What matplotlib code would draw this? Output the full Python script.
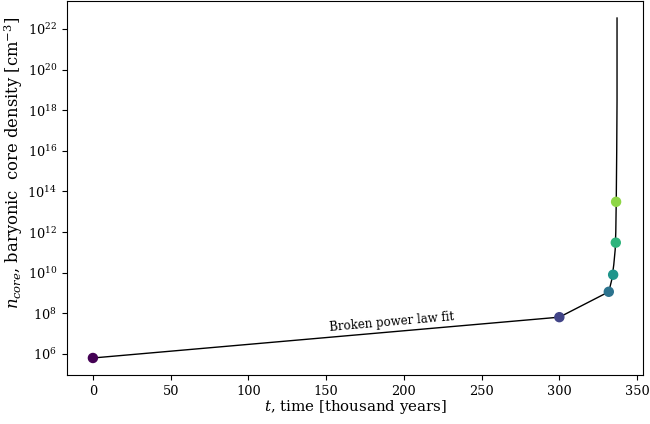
import matplotlib
matplotlib.use("Agg")
import matplotlib.pyplot as plt
from matplotlib.ticker import LogLocator, NullLocator

plt.rcParams['font.family'] = ['DejaVu Serif']
plt.rcParams['mathtext.fontset'] = 'dejavuserif'

# scatter points: time [kyr], core density [cm^-3]
point_time = [0.0, 300.0, 331.8, 334.6, 336.3, 336.5]
point_density = [10**5.80, 10**7.81, 10**9.06, 10**9.90, 10**11.48, 10**13.49]
point_color_frac = [0.0, 0.2, 0.38, 0.52, 0.65, 0.83]

# broken power law fit line
fit_time = [0.0, 300.0, 331.8, 333.7, 335.0, 335.9, 336.3, 336.6, 336.9, 337.1, 337.1]
fit_density = [10**5.80, 10**7.81, 10**9.06, 10**9.65, 10**10.39, 10**11.12,
               10**12.0, 10**13.57, 10**16.0, 10**18.47, 10**22.54]

fit_label = "Broken power law fit"

fig = plt.figure(figsize=(6.5, 4.24), dpi=100)
ax = fig.add_axes([0.1026, 0.1156, 0.887, 0.882])

ax.plot(fit_time, fit_density, color='black', lw=1.0, zorder=2)
cols = plt.get_cmap('viridis')(point_color_frac)
ax.scatter(point_time, point_density, c=cols, s=42, zorder=3)
ax.set_yscale('log')
ax.yaxis.set_major_locator(LogLocator(base=100))
ax.yaxis.set_minor_locator(NullLocator())

ax.text(192, 10**7.58, fit_label, rotation=5, fontsize=8.5,
        ha='center', va='center')

ax.set_xlabel(r'$t$, time [thousand years]', fontsize=10.8, labelpad=0)
ax.set_ylabel(r'$n_{core}$, baryonic  core density [cm$^{-3}$]', fontsize=11.8)
ax.yaxis.set_label_coords(-0.072, 0.566)
ax.tick_params(labelsize=9.3)

fig.savefig('out.png', dpi=100)
